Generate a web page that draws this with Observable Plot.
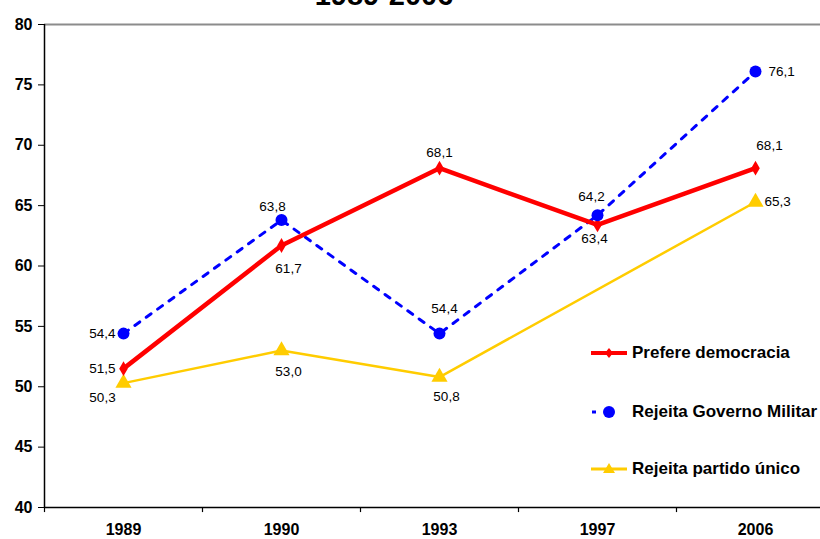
<!DOCTYPE html>
<html>
<head>
<meta charset="utf-8">
<script src="https://cdn.jsdelivr.net/npm/d3@7"></script>
<script src="https://cdn.jsdelivr.net/npm/@observablehq/plot@0.6"></script>
<style>
  html, body { margin: 0; padding: 0; background: #fff; }
  body { width: 820px; height: 539px; position: relative; overflow: hidden; font-family: "Liberation Sans", Arial, sans-serif; }
  #title { position: absolute; top: -19px; left: 284px; width: 200px; text-align: center; font-size: 29px; line-height: 29px; font-weight: bold; color: #000; }
  #legend { position: absolute; left: 588px; top: 340px; }
  .entry { position: absolute; left: 0; height: 26px; display: flex; align-items: center; white-space: nowrap; font-size: 17px; font-weight: bold; color: #000; }
  .entry svg { margin-right: 2px; }
  #chart { position: absolute; left: 0; top: 0; }
</style>
</head>
<body>
<div id="chart"></div>
<div id="title">1989-2006</div>
<div id="legend"></div>
<script>
// ---- data ----
const years = ["1989", "1990", "1993", "1997", "2006"];
const prefereDemocracia = [51.5, 61.7, 68.1, 63.4, 68.1];
const rejeitaGovernoMilitar = [54.4, 63.8, 54.4, 64.2, 76.1];
const partidoYears = ["1989", "1990", "1993", "2006"];
const rejeitaPartidoUnico = [50.3, 53.0, 50.8, 65.3];
const yTicks = [40, 45, 50, 55, 60, 65, 70, 75, 80];
const seriesNames = ["Prefere democracia", "Rejeita Governo Militar", "Rejeita partido único"];

// ---- tables ----
const red = years.map((year, i) => ({year, value: prefereDemocracia[i]}));
const blue = years.map((year, i) => ({year, value: rejeitaGovernoMilitar[i]}));
const yellow = partidoYears.map((year, i) => ({year, value: rejeitaPartidoUnico[i]}));

const RED = "#ff0000", BLUE = "#0000ff", YELLOW = "#ffcc00";
const fmt = v => d3.format(".1f")(v).replace(".", ",");

// label placement (pixel offsets from each point)
const redOff = [[-8, 0, "end"], [7, 23, "middle"], [0, -16, "middle"], [-3, 14, "middle"], [14, -23, "middle"]];
const blueOff = [[-8, 0, "end"], [-9, -13, "middle"], [5, -25, "middle"], [-6, -19, "middle"], [13, 0, "start"]];
const yellowOff = [[-21, 15, "middle"], [7, 21, "middle"], [7, 20, "middle"], [9, 0, "start"]];

const labelMarks = [];
[[red, redOff], [blue, blueOff], [yellow, yellowOff]].forEach(([data, offs]) => {
  data.forEach((d, i) => {
    const [dx, dy, anchor] = offs[i];
    labelMarks.push(Plot.text([d], {x: "year", y: "value", text: d => fmt(d.value), dx, dy, textAnchor: anchor, fontSize: 13.5, fill: "#000"}));
  });
});

const half = 79;
const plot = Plot.plot({
  width: 820,
  height: 539,
  marginTop: 24,
  marginBottom: 32,
  marginLeft: 44,
  marginRight: 0,
  style: {fontFamily: "'Liberation Sans', Arial, sans-serif", background: "#fff", overflow: "visible"},
  x: {type: "band", domain: years, range: [44, 834], padding: 0, label: null},
  y: {domain: [40, 80], range: [507, 24], label: null},
  marks: [
    Plot.ruleY([80], {stroke: "#8c8c8c", strokeWidth: 2}),
    Plot.ruleY([40], {stroke: "#000", strokeWidth: 1.5}),
    Plot.ruleX([years[0]], {dx: -half, y1: 40, y2: 80, stroke: "#000", strokeWidth: 1.5}),
    Plot.ruleX(years, {dx: -half, y1: 40, y2: 39.58, stroke: "#000", strokeWidth: 1.2}),
    Plot.axisY(yTicks, {label: null, tickSize: 6, tickPadding: 6, fontSize: 16, fontWeight: "bold", stroke: "#000", fill: "#000"}),
    Plot.axisX({label: null, tickSize: 0, tickPadding: 16, fontSize: 16, fontWeight: "bold", fill: "#000"}),
    Plot.line(yellow, {x: "year", y: "value", stroke: YELLOW, strokeWidth: 2.5}),
    Plot.line(blue, {x: "year", y: "value", stroke: BLUE, strokeWidth: 3, strokeDasharray: "6,8"}),
    Plot.line(red, {x: "year", y: "value", stroke: RED, strokeWidth: 4.5}),
    Plot.dot(yellow, {x: "year", y: "value", symbol: "triangle", r: 6, fill: YELLOW}),
    Plot.dot(red, {x: "year", y: "value", symbol: "diamond", r: 4.5, fill: RED}),
    Plot.dot(blue, {x: "year", y: "value", symbol: "circle", r: 6, fill: BLUE}),
    ...labelMarks
  ]
});
document.getElementById("chart").appendChild(plot);

// ---- legend ----
const legend = document.getElementById("legend");
const samples = [
  `<svg width="42" height="20"><line x1="3" x2="39" y1="10" y2="10" stroke="${RED}" stroke-width="4"/><path d="M21,5 L25,10 L21,15 L17,10 Z" fill="${RED}"/></svg>`,
  `<svg width="42" height="20"><line x1="4" x2="8" y1="10" y2="10" stroke="${BLUE}" stroke-width="3"/><circle cx="21" cy="10" r="6" fill="${BLUE}"/></svg>`,
  `<svg width="42" height="20"><line x1="3" x2="39" y1="10" y2="10" stroke="${YELLOW}" stroke-width="3"/><path d="M21,4 L27,14 L15,14 Z" fill="${YELLOW}"/></svg>`
];
const tops = [0, 59, 116];
seriesNames.forEach((name, i) => {
  const e = document.createElement("div");
  e.className = "entry";
  e.style.top = tops[i] + "px";
  e.innerHTML = samples[i] + `<span>${name}</span>`;
  legend.appendChild(e);
});
</script>
</body>
</html>
